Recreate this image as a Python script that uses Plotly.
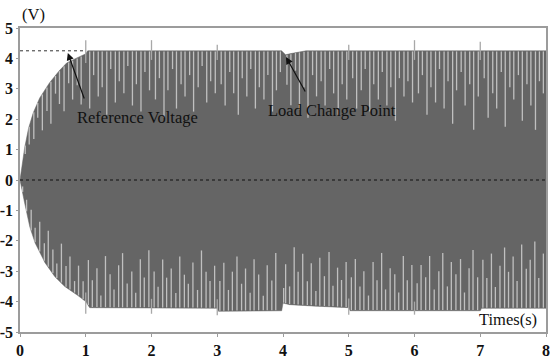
import numpy as np
import plotly.graph_objects as go

# ---------------- data ----------------
env_t_up = [0, 0.03, 0.07, 0.13, 0.2, 0.3, 0.45, 0.6, 0.71, 0.85, 0.95, 1.0, 1.03,
            3.98, 4.0, 4.04, 4.1, 4.2, 4.35, 8.0]
env_up = [0, 0.5, 1.05, 1.7, 2.2, 2.7, 3.2, 3.6, 3.85, 4.0, 4.1, 4.15, 4.25,
          4.25, 4.2, 4.12, 4.15, 4.2, 4.25, 4.25]

env_t_lo = [0, 0.03, 0.07, 0.15, 0.23, 0.38, 0.53, 0.68, 0.88, 1.0, 1.06,
            3.0, 3.02, 3.98, 4.0, 4.1, 4.5, 5.0, 5.02, 7.0, 7.02, 8.0]
env_lo = [0, -0.3, -0.75, -1.55, -2.07, -2.72, -3.18, -3.5, -3.8, -4.0, -4.2,
          -4.22, -4.32, -4.3, -4.05, -4.1, -4.15, -4.2, -4.3, -4.3, -4.22, -4.22]

top_spike_t = [0.08, 0.14, 0.21, 0.27, 0.34, 0.41, 0.47, 0.54, 0.60, 0.67, 0.74, 0.80, 0.87, 0.93,
               1.06, 1.12, 1.19, 1.25, 1.32, 1.38, 1.45, 1.51, 1.58, 1.64, 1.71, 1.77, 1.84, 1.90, 1.97,
               2.06, 2.12, 2.19, 2.25, 2.32, 2.38, 2.45, 2.51, 2.58, 2.64, 2.71, 2.77, 2.84, 2.90, 2.97,
               3.06, 3.12, 3.19, 3.25, 3.32, 3.38, 3.45, 3.51, 3.58, 3.64, 3.71, 3.77, 3.84, 3.90, 3.96,
               4.06, 4.12, 4.19, 4.25, 4.32, 4.38, 4.45, 4.51, 4.58, 4.64, 4.71, 4.77, 4.84, 4.90, 4.97,
               5.06, 5.12, 5.19, 5.25, 5.32, 5.38, 5.45, 5.51, 5.58, 5.64, 5.71, 5.77, 5.84, 5.90, 5.97,
               6.06, 6.12, 6.19, 6.25, 6.32, 6.38, 6.45, 6.51, 6.58, 6.64, 6.71, 6.77, 6.84, 6.90, 6.97,
               7.06, 7.12, 7.19, 7.25, 7.32, 7.38, 7.45, 7.51, 7.58, 7.64, 7.71, 7.77, 7.84, 7.90, 7.96]
top_spike_depth = [0.3, 0.6, 0.9, 0.5, 1.2, 0.8, 1.4, 0.6, 1.1, 1.5, 0.7, 1.3, 0.9, 1.6,
                   1.9, 0.8, 1.5, 1.2, 2.1, 0.6, 1.7, 1.0, 1.4, 0.5, 1.8, 1.1, 2.0, 0.7, 1.3,
                   1.6, 0.9, 2.2, 1.3, 0.6, 1.9, 1.1, 1.5, 0.8, 2.0, 1.2, 0.5, 1.7, 1.0, 1.4,
                   1.1, 1.8, 0.7, 1.4, 2.1, 0.9, 1.5, 0.6, 1.9, 1.2, 1.6, 0.8, 2.0, 1.3, 0.7,
                   1.0, 1.7, 0.6, 1.9, 1.2, 2.2, 0.8, 1.5, 1.0, 1.8, 0.6, 1.4, 2.1, 1.1, 1.6,
                   0.9, 1.9, 1.3, 0.6, 2.0, 1.1, 1.6, 0.7, 1.8, 1.2, 2.3, 0.9, 1.5, 1.0, 1.7,
                   1.4, 0.8, 2.1, 1.2, 1.7, 0.6, 1.9, 1.0, 2.4, 1.3, 0.7, 1.8, 1.1, 2.6, 1.5,
                   0.9, 2.2, 1.4, 1.9, 0.7, 2.5, 1.2, 1.6, 0.8, 2.3, 1.1, 1.8, 2.6, 1.0, 1.4]

bot_spike_t = [0.04, 0.10, 0.17, 0.23, 0.30, 0.37, 0.43, 0.50, 0.56, 0.63, 0.70, 0.76, 0.83, 0.89, 0.96,
               1.04, 1.10, 1.17, 1.23, 1.30, 1.37, 1.43, 1.50, 1.56, 1.63, 1.70, 1.76, 1.83, 1.89, 1.96,
               2.04, 2.10, 2.17, 2.23, 2.30, 2.37, 2.43, 2.50, 2.56, 2.63, 2.70, 2.76, 2.83, 2.89, 2.96,
               3.04, 3.10, 3.17, 3.23, 3.30, 3.37, 3.43, 3.50, 3.56, 3.63, 3.70, 3.76, 3.83, 3.89, 4.01,
               4.04, 4.10, 4.17, 4.23, 4.30, 4.37, 4.43, 4.50, 4.56, 4.63, 4.70, 4.76, 4.83, 4.89, 4.96,
               5.04, 5.10, 5.17, 5.23, 5.30, 5.37, 5.43, 5.50, 5.56, 5.63, 5.70, 5.76, 5.83, 5.89, 5.96,
               6.04, 6.10, 6.17, 6.23, 6.30, 6.37, 6.43, 6.50, 6.56, 6.63, 6.70, 6.76, 6.83, 6.89, 6.96,
               7.04, 7.10, 7.17, 7.23, 7.30, 7.37, 7.43, 7.50, 7.56, 7.63, 7.70, 7.76, 7.83, 7.89, 7.96]
bot_spike_depth = [0.2, 0.4, 0.7, 0.5, 1.0, 0.6, 1.2, 0.8, 0.5, 1.3, 0.7, 1.1, 0.4, 1.0, 0.6,
                   1.5, 0.9, 1.3, 0.4, 1.7, 1.1, 0.6, 1.4, 1.8, 0.8, 1.2, 0.5, 1.6, 1.0, 1.9,
                   1.2, 0.7, 1.6, 1.0, 1.3, 0.5, 1.7, 1.1, 0.8, 1.5, 0.6, 1.9, 1.2, 0.9, 1.4,
                   1.0, 1.6, 0.7, 1.3, 1.8, 0.9, 1.4, 0.6, 1.7, 1.2, 0.5, 1.5, 1.0, 1.9, 0.5,
                   1.3, 0.6, 1.9, 1.1, 1.7, 0.8, 1.4, 0.5, 1.6, 1.0, 1.8, 0.7, 1.3, 0.9, 1.5,
                   1.1, 1.7, 0.8, 1.3, 0.5, 1.6, 1.0, 1.9, 0.7, 1.4, 1.2, 0.6, 1.8, 1.0, 1.5,
                   0.9, 1.5, 1.1, 1.8, 0.7, 1.3, 1.9, 0.8, 1.6, 1.2, 1.7, 0.6, 1.4, 2.0, 1.1,
                   1.6, 1.0, 1.8, 0.7, 1.4, 2.0, 1.2, 1.7, 0.9, 2.1, 1.3, 1.6, 2.2, 1.0, 1.8]

# small overshoot marks at the whole seconds
mark_t_top = [1, 2, 3, 5, 6, 7]
mark_v_top = [4.6, 4.6, 4.45, 4.45, 4.6, 4.55]
mark_t_bot = [1, 2, 3, 5, 6]
mark_v_bot = [-4.4, -4.4, -4.45, -4.43, -4.43]

ref_t = [0, 1]
ref_v = [4.25, 4.25]

x_ticks = [0, 1, 2, 3, 4, 5, 6, 7, 8]
y_ticks = [5, 4, 3, 2, 1, 0, -1, -2, -3, -4, -5]

# ---------------- figure ----------------
FILL = "#656565"
SPIKE = "#c0c0c0"
AXIS = "#9c9c9c"
SERIF = "Times New Roman, Liberation Serif, serif"

fig = go.Figure()

# filled envelope
poly_x = list(env_t_up) + list(env_t_lo[::-1])
poly_y = list(env_up) + list(env_lo[::-1])
fig.add_trace(go.Scatter(x=poly_x, y=poly_y, fill="toself", fillcolor=FILL,
                         mode="lines", line=dict(color=FILL, width=0.5),
                         hoverinfo="skip", showlegend=False))

# light spikes
sx, sy = [], []
for t, d in zip(top_spike_t, top_spike_depth):
    u = float(np.interp(t, env_t_up, env_up))
    sx += [t, t, None]
    sy += [u - 0.02, max(u - d, 0.05), None]
for t, d in zip(bot_spike_t, bot_spike_depth):
    l = float(np.interp(t, env_t_lo, env_lo))
    sx += [t, t, None]
    sy += [l + 0.02, min(l + d, -0.05), None]
fig.add_trace(go.Scatter(x=sx, y=sy, mode="lines", line=dict(color=SPIKE, width=1.3),
                         hoverinfo="skip", showlegend=False))

# overshoot marks
mx, my = [], []
for t, v in zip(mark_t_top, mark_v_top):
    mx += [t, t, None]
    my += [float(np.interp(t, env_t_up, env_up)) - 0.3, v, None]
for t, v in zip(mark_t_bot, mark_v_bot):
    mx += [t, t, None]
    my += [float(np.interp(t, env_t_lo, env_lo)) + 0.3, v, None]
fig.add_trace(go.Scatter(x=mx, y=my, mode="lines", line=dict(color="#a8a8a8", width=1.3),
                         hoverinfo="skip", showlegend=False))

# zero line
fig.add_trace(go.Scatter(x=[0, 8], y=[0, 0], mode="lines",
                         line=dict(color="#111111", width=1, dash="dot"),
                         hoverinfo="skip", showlegend=False))
# reference voltage line
fig.add_trace(go.Scatter(x=ref_t, y=ref_v, mode="lines",
                         line=dict(color="#333333", width=1, dash="dot"),
                         hoverinfo="skip", showlegend=False))

txt = dict(family=SERIF, size=16.5, color="#111111")
annotations = [
    dict(x=1.79, y=2.07, xref="x", yref="y", text="Reference Voltage", showarrow=False, font=txt),
    dict(x=4.74, y=2.27, xref="x", yref="y", text="Load Change Point", showarrow=False, font=txt),
    dict(x=0.727, y=4.18, ax=0.985, ay=2.63, xref="x", yref="y", axref="x", ayref="y",
         text="", showarrow=True, arrowhead=2, arrowsize=1.2, arrowwidth=1.2, arrowcolor="#111111"),
    dict(x=4.045, y=4.05, ax=4.35, ay=2.86, xref="x", yref="y", axref="x", ayref="y",
         text="", showarrow=True, arrowhead=2, arrowsize=1.2, arrowwidth=1.2, arrowcolor="#111111"),
    dict(x=0.025, y=1.046, xref="paper", yref="paper", text="(V)", showarrow=False,
         font=txt, xanchor="center", yanchor="middle"),
    dict(x=7.42, y=-4.6, xref="x", yref="y", text="Times(s)", showarrow=False, font=txt),
]

tickfont = dict(family=SERIF, size=16, color="#111111")
fig.update_layout(
    width=550, height=358,
    margin=dict(l=20, r=4, t=28, b=26),
    paper_bgcolor="white", plot_bgcolor="white",
    annotations=annotations,
    xaxis=dict(range=[0, 8], tickvals=x_ticks, ticktext=["<b>%d</b>" % v for v in x_ticks],
               showgrid=False, zeroline=False, showline=True, linecolor=AXIS, linewidth=1.5,
               mirror=True, ticks="outside", ticklen=3, tickcolor=AXIS, tickfont=tickfont,
               ticklabeloverflow="allow", automargin=False),
    yaxis=dict(range=[-5, 5], tickvals=y_ticks, ticktext=["<b>%d</b>" % v for v in y_ticks],
               showgrid=False, zeroline=False, showline=True, linecolor=AXIS, linewidth=1.5,
               mirror=True, ticks="outside", ticklen=2, tickcolor=AXIS, tickfont=tickfont,
               ticklabeloverflow="allow", automargin=False),
)

fig.write_html("out.html")
